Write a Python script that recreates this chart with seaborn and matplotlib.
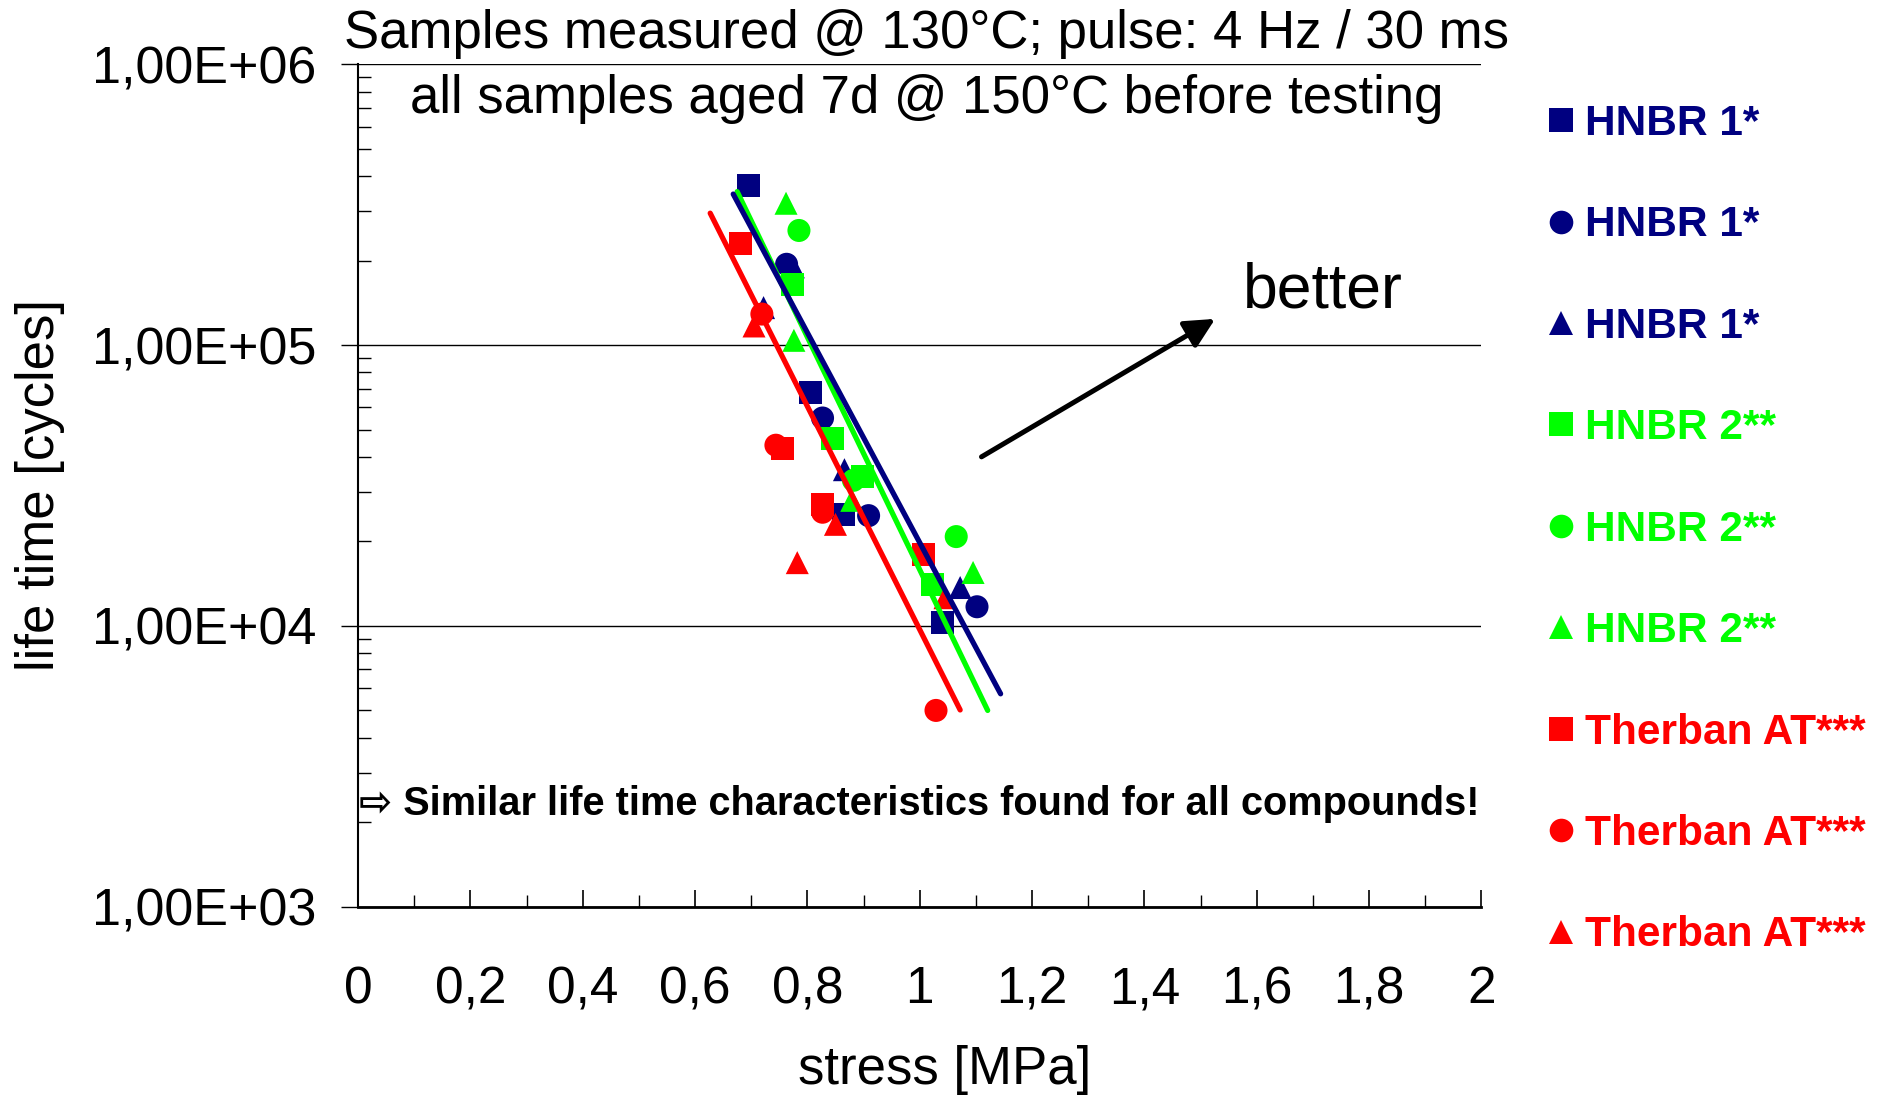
import numpy as np
import pandas as pd
import matplotlib
matplotlib.use('Agg')
import matplotlib.pyplot as plt
from matplotlib.lines import Line2D
import seaborn as sns

# measured points: stress [MPa] and life time [cycles]
hnbr1_sq_x = [0.695, 0.806, 0.864, 1.041]
hnbr1_sq_y = [3.7e5, 6.8e4, 2.5e4, 1.03e4]
hnbr1_ci_x = [0.763, 0.827, 0.909, 1.102]
hnbr1_ci_y = [1.94e5, 5.5e4, 2.47e4, 1.17e4]
hnbr1_tr_x = [0.775, 0.722, 0.866, 1.072]
hnbr1_tr_y = [1.9e5, 1.36e5, 3.6e4, 1.37e4]

hnbr2_sq_x = [0.774, 0.845, 0.899, 1.022]
hnbr2_sq_y = [1.64e5, 4.66e4, 3.4e4, 1.4e4]
hnbr2_ci_x = [0.785, 0.882, 1.065]
hnbr2_ci_y = [2.56e5, 3.3e4, 2.08e4]
hnbr2_tr_x = [0.762, 0.776, 0.879, 1.095]
hnbr2_tr_y = [3.2e5, 1.04e5, 2.8e4, 1.55e4]

therban_sq_x = [0.681, 0.755, 0.827, 1.007]
therban_sq_y = [2.3e5, 4.3e4, 2.7e4, 1.8e4]
therban_ci_x = [0.719, 0.744, 0.827, 1.029]
therban_ci_y = [1.29e5, 4.4e4, 2.54e4, 5.0e3]
therban_tr_x = [0.705, 0.782, 0.850, 1.045]
therban_tr_y = [1.17e5, 1.68e4, 2.3e4, 1.26e4]

# fitted trend lines (end points)
fit_hnbr1_x = [0.668, 1.144]
fit_hnbr1_y = [3.45e5, 5.73e3]
fit_hnbr2_x = [0.675, 1.121]
fit_hnbr2_y = [3.52e5, 5.0e3]
fit_therban_x = [0.627, 1.072]
fit_therban_y = [2.95e5, 5.02e3]

# "better" arrow
better_x = [1.110, 1.526]
better_y = [4.0e4, 1.24e5]

compounds = ['HNBR 1*', 'HNBR 2**', 'Therban AT***']
colors = {'HNBR 1*': '#000080', 'HNBR 2**': '#00FF00', 'Therban AT***': '#FF0000'}
shapes = {'square': 's', 'circle': 'o', 'triangle': '^'}

xtick_vals = [0, 0.2, 0.4, 0.6, 0.8, 1.0, 1.2, 1.4, 1.6, 1.8, 2.0]
xtick_labels = ['0', '0,2', '0,4', '0,6', '0,8', '1', '1,2', '1,4', '1,6', '1,8', '2']
ytick_vals = [1e3, 1e4, 1e5, 1e6]
ytick_labels = ['1,00E+03', '1,00E+04', '1,00E+05', '1,00E+06']

# build a long table for seaborn
rows = []
series = [
    ('HNBR 1*', 'square', hnbr1_sq_x, hnbr1_sq_y),
    ('HNBR 1*', 'circle', hnbr1_ci_x, hnbr1_ci_y),
    ('HNBR 1*', 'triangle', hnbr1_tr_x, hnbr1_tr_y),
    ('HNBR 2**', 'square', hnbr2_sq_x, hnbr2_sq_y),
    ('HNBR 2**', 'circle', hnbr2_ci_x, hnbr2_ci_y),
    ('HNBR 2**', 'triangle', hnbr2_tr_x, hnbr2_tr_y),
    ('Therban AT***', 'square', therban_sq_x, therban_sq_y),
    ('Therban AT***', 'circle', therban_ci_x, therban_ci_y),
    ('Therban AT***', 'triangle', therban_tr_x, therban_tr_y),
]
for comp, shp, xs, ys in series:
    for xv, yv in zip(xs, ys):
        rows.append({'compound': comp, 'shape': shp, 'stress': xv, 'cycles': yv})
df = pd.DataFrame(rows)

sns.set_theme(style='white')
plt.rcParams['font.family'] = ['Liberation Sans', 'DejaVu Sans']
plt.rcParams['text.color'] = 'black'
plt.rcParams['axes.labelcolor'] = 'black'
plt.rcParams['xtick.color'] = 'black'
plt.rcParams['ytick.color'] = 'black'

fig = plt.figure(figsize=(18.9, 11.03), dpi=100)
ax = fig.add_axes([0.18942, 0.17797, 0.5944, 0.76373])

# points, compound by compound so red lands on top
for comp in compounds:
    sub = df[df['compound'] == comp]
    sns.scatterplot(data=sub, x='stress', y='cycles', style='shape', markers=shapes,
                    color=colors[comp], s=275, linewidth=0, legend=False, ax=ax, zorder=3)

# trend lines
ax.plot(fit_hnbr2_x, fit_hnbr2_y, color=colors['HNBR 2**'], lw=3.8, zorder=4)
ax.plot(fit_hnbr1_x, fit_hnbr1_y, color=colors['HNBR 1*'], lw=3.8, zorder=4)
ax.plot(fit_therban_x, fit_therban_y, color=colors['Therban AT***'], lw=3.8, zorder=4)

ax.annotate('', xy=(better_x[1], better_y[1]), xytext=(better_x[0], better_y[0]),
            arrowprops=dict(arrowstyle='-|>', color='black', lw=3.6, mutation_scale=45,
                            shrinkA=0, shrinkB=0), zorder=5)

ax.set_yscale('log')
ax.set_xlim(0, 2)
ax.set_ylim(1e3, 1e6)
ax.set_xticks(xtick_vals)
ax.set_xticklabels(xtick_labels)
ax.set_xticks(np.arange(0.1, 2.0, 0.2), minor=True)
ax.set_yticks(ytick_vals)
ax.set_yticklabels(ytick_labels)
ax.yaxis.set_minor_locator(matplotlib.ticker.LogLocator(base=10, subs=np.arange(2, 10)))
ax.yaxis.set_minor_formatter(matplotlib.ticker.NullFormatter())

ax.tick_params(axis='x', which='major', direction='in', length=12.5, width=1.2,
               labelsize=37, pad=42, color='black', bottom=True)
ax.tick_params(axis='x', which='minor', direction='in', length=9, width=1.0, bottom=True)
ax.tick_params(axis='y', which='major', direction='out', length=12, width=1.0,
               labelsize=37.5, pad=18, color='black', left=True)
ax.tick_params(axis='y', which='minor', direction='in', length=9, width=1.0, left=True)

ax.grid(True, axis='y', which='major', color='black', lw=1.0)
ax.grid(False, axis='x')
ax.set_axisbelow(True)
for side in ['top', 'right']:
    ax.spines[side].set_visible(False)
ax.spines['left'].set_color('black')
ax.spines['left'].set_linewidth(1.5)
ax.spines['bottom'].set_color('black')
ax.spines['bottom'].set_linewidth(2.0)
ax.set_xlabel('')
ax.set_ylabel('')

fig.text(0.5, 0.0299, 'stress [MPa]', fontsize=38, ha='center', va='center')
fig.text(0.0212, 0.5606, 'life time [cycles]', fontsize=38, rotation=90, ha='center', va='center')

fig.text(0.49, 1 - 48 / 1103, 'Samples measured @ 130°C; pulse: 4 Hz / 30 ms',
         fontsize=38, ha='center', va='baseline')
fig.text(0.4905, 1 - 113 / 1103, 'all samples aged 7d @ 150°C before testing',
         fontsize=38, ha='center', va='baseline')
fig.text(1243 / 1890, 1 - 307 / 1103, 'better', fontsize=45, ha='left', va='baseline')
fig.text(359 / 1890, 1 - 815 / 1103, '⇨ Similar life time characteristics found for all compounds!',
         fontsize=28.6, fontweight='bold', ha='left', va='baseline',
         family=['Liberation Sans', 'DejaVu Sans'])

# legend on the right
handles = []
labels = []
for comp in compounds:
    for shp in ['square', 'circle', 'triangle']:
        handles.append(Line2D([], [], linestyle='', marker=shapes[shp], color=colors[comp],
                              markersize=17, markeredgewidth=0))
        labels.append(comp)
leg = fig.legend(handles, labels, loc='upper left', bbox_to_anchor=(1549 / 1890, 1 - 104 / 1103),
                 frameon=False, handlelength=0.55, handletextpad=0.3, labelspacing=1.45,
                 borderpad=0, borderaxespad=0, prop={'size': 30.5, 'weight': 'bold'})
for txt, comp in zip(leg.get_texts(), [c for c in compounds for _ in range(3)]):
    txt.set_color(colors[comp])

fig.savefig('out.png', dpi=100)
